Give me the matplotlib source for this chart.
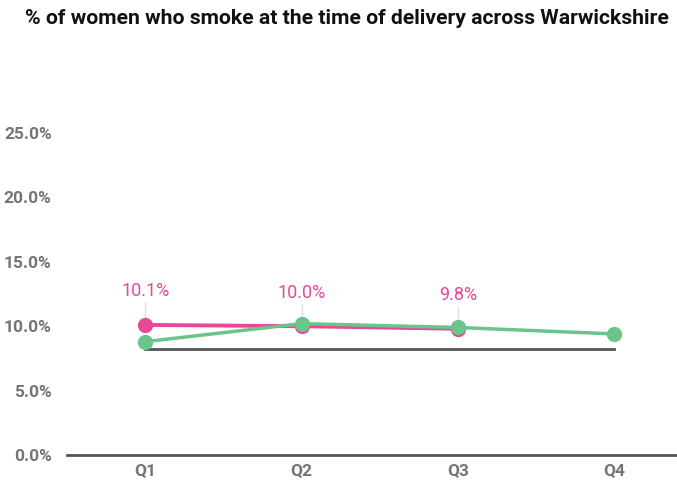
import matplotlib
matplotlib.use("Agg")
import matplotlib.pyplot as plt

quarters = ["Q1", "Q2", "Q3", "Q4"]
warwickshire = [10.1, 10.0, 9.8]
england = [8.8, 10.2, 9.9, 9.4]
target = [8.2, 8.2, 8.2, 8.2]
y_ticks = [0, 5, 10, 15, 20, 25]

plt.rcParams["font.family"] = ["Roboto", "DejaVu Sans"]

W, H = 677, 491
fig = plt.figure(figsize=(W / 100, H / 100), dpi=100)
ax = fig.add_axes([67 / W, 1 - 455 / H, (W - 67) / W, (455 - 133) / H])

pink = "#e8489a"
green = "#6cc48a"

x = list(range(len(quarters)))
ax.plot(x, target, color="#555555", lw=2, zorder=1)
ax.plot(x[:3], warwickshire, color=pink, lw=2.8, marker="o", ms=10, zorder=2)
ax.plot(x, england, color=green, lw=2.5, marker="o", ms=10, zorder=3)

for i, v in enumerate(warwickshire):
    ax.plot([i, i], [v + 0.4, v + 1.7], color="#dddddd", lw=1, zorder=0)
    ax.text(i, v + 1.9, f"{v:.1f}%", color=pink, ha="center", va="bottom", fontsize=13)

ax.set_xlim(-0.5, 3.4)
ax.set_ylim(0, 25)
ax.set_xticks(x)
ax.set_xticklabels(quarters)
ax.set_yticks(y_ticks)
ax.set_yticklabels([f"{t:.1f}%" for t in y_ticks])
for lab in ax.get_xticklabels() + ax.get_yticklabels():
    lab.set_color("#757575")
    lab.set_fontweight("bold")
    lab.set_fontsize(12.5)
ax.tick_params(axis="x", length=0, pad=6)
ax.tick_params(axis="y", length=0, pad=11)
for s in ["top", "right", "left"]:
    ax.spines[s].set_visible(False)
ax.spines["bottom"].set_color("#555555")
ax.spines["bottom"].set_linewidth(2)

fig.text(25 / W, 1 - 18 / H, "% of women who smoke at the time of delivery across Warwickshire",
         fontsize=15.2, fontweight="bold", color="#111111", va="center", ha="left")

fig.savefig("out.png", dpi=100)
